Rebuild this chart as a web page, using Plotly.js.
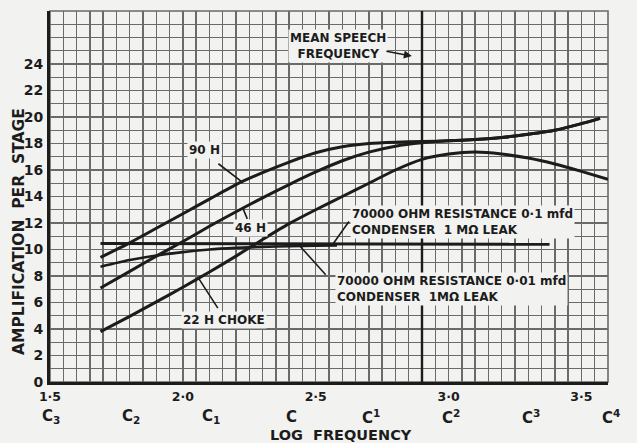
<!DOCTYPE html>
<html>
<head>
<meta charset="utf-8">
<script src="https://cdn.plot.ly/plotly-3.0.1.min.js"></script>
<style>
html,body{margin:0;padding:0;background:#f2f2f0;}
#chart{width:637px;height:443px;}
</style>
</head>
<body>
<div id="chart"></div>
<script>
// ---- data (log10 frequency vs amplification per stage) ----
const h90X = [1.69,1.8,1.9,2.0,2.1,2.2,2.3,2.4,2.5,2.6,2.7,2.8,2.9,3.0,3.1,3.2,3.3,3.4,3.5,3.57];
const h90Y = [9.4,10.5,11.6,12.7,13.8,14.9,15.8,16.6,17.3,17.75,18.0,18.1,18.15,18.2,18.3,18.45,18.7,19.0,19.5,19.9];

const h46X = [1.69,1.8,1.9,2.0,2.1,2.2,2.3,2.4,2.5,2.6,2.7,2.8,2.9,3.0,3.1,3.2,3.3,3.4,3.5,3.57];
const h46Y = [7.1,8.35,9.5,10.6,11.75,12.85,13.9,14.9,15.85,16.7,17.35,17.8,18.05,18.2,18.3,18.45,18.7,19.0,19.5,19.9];

const h22X = [1.69,1.8,1.9,2.0,2.1,2.2,2.3,2.4,2.5,2.6,2.7,2.8,2.9,3.0,3.1,3.2,3.3,3.4,3.5,3.6];
const h22Y = [3.8,4.95,6.05,7.15,8.3,9.5,10.75,11.95,13.0,14.0,15.0,16.0,16.8,17.2,17.35,17.2,16.9,16.45,15.9,15.3];

const res01X = [1.69,3.38];
const res01Y = [10.45,10.4];

const res001X = [1.69,1.8,1.9,2.0,2.1,2.2,2.3,2.4,2.5,2.58];
const res001Y = [8.7,9.2,9.55,9.8,10.0,10.12,10.2,10.25,10.28,10.3];

const meanSpeechX = 2.9;

const yTickVals = [0,2,4,6,8,10,12,14,16,18,20,22,24];
const xTickVals = [1.5,2.0,2.5,3.0,3.5];
const xTickText = ['1·5','2·0','2·5','3·0','3·5'];
const noteFreqs = [32,64,128,256,512,1024,2048,4096];
const noteNames = ['C<sub>3</sub>','C<sub>2</sub>','C<sub>1</sub>','C','C<sup>1</sup>','C<sup>2</sup>','C<sup>3</sup>','C<sup>4</sup>'];

const X_RANGE = [1.5,3.6];
const Y_RANGE = [0,28];

// ---- styling ----
const INK = '#1c1c1c';
const GRID = '#6a6a6a';
const BG = '#f2f2f0';
const FONT = 'DejaVu Sans, Liberation Sans, Arial, sans-serif';

function curve(x, y, w) {
  return {x: x, y: y, type: 'scatter', mode: 'lines',
    line: {color: INK, width: w || 3, shape: 'spline', smoothing: 0.6},
    hoverinfo: 'skip', showlegend: false, cliponaxis: true};
}

const traces = [
  curve(h90X, h90Y),
  curve(h46X, h46Y),
  curve(h22X, h22Y),
  curve(res01X, res01Y, 3),
  curve(res001X, res001Y, 2.6),
  {x: [meanSpeechX, meanSpeechX], y: Y_RANGE, type: 'scatter', mode: 'lines',
   line: {color: INK, width: 2.4}, hoverinfo: 'skip', showlegend: false}
];

const txtFont = {family: FONT, size: 12, color: INK, weight: 'bold'};

function label(text, x, y, xanchor, align) {
  return {text: text, x: x, y: y, xref: 'x', yref: 'y', showarrow: false,
    xanchor: xanchor || 'center', yanchor: 'middle', align: align || 'center',
    font: txtFont, bgcolor: BG, borderpad: 1};
}
function leader(x, y, ax, ay, head) {
  return {text: '', x: x, y: y, xref: 'x', yref: 'y', ax: ax, ay: ay,
    showarrow: true, arrowhead: head ? 2 : 0, arrowsize: 1, arrowwidth: 1.6,
    arrowcolor: INK, standoff: 0, startstandoff: 0};
}

const annotations = [
  label('90 H', 2.083, 17.5),
  label('46 H', 2.256, 11.6),
  label('22 H CHOKE', 2.155, 4.68),
  label('70000 OHM RESISTANCE 0·1 mfd<br>CONDENSER  1 MΩ LEAK', 2.629, 12.08, 'left', 'left'),
  label('70000 OHM RESISTANCE 0·01 mfd<br>CONDENSER  1MΩ LEAK', 2.573, 7.02, 'left', 'left'),
  label('MEAN SPEECH<br>FREQUENCY', 2.584, 25.36),
  leader(2.226, 15.05, -26, -20),
  leader(2.226, 13.1, 5, 12),
  leader(2.06, 7.8, 20, 31),
  leader(2.565, 10.42, 17, -24),
  leader(2.441, 10.25, 27, 30),
  leader(2.862, 24.6, -27, -5, true),
  {text: 'AMPLIFICATION  PER  STAGE', xref: 'paper', yref: 'paper',
   x: -0.0556, y: 0.407, textangle: -90, showarrow: false,
   xanchor: 'center', yanchor: 'middle',
   font: {family: FONT, size: 15.5, color: INK, weight: 'bold'}},
  {text: 'LOG  FREQUENCY', xref: 'paper', yref: 'paper',
   x: 0.5215, y: -0.143, showarrow: false, xanchor: 'center', yanchor: 'middle',
   font: {family: FONT, size: 14.5, color: INK, weight: 'bold'}}
];

noteFreqs.forEach(function (f, i) {
  annotations.push({text: noteNames[i], xref: 'paper', yref: 'paper',
    x: (Math.log10(f) - X_RANGE[0]) / (X_RANGE[1] - X_RANGE[0]), y: -0.093,
    showarrow: false, xanchor: 'center', yanchor: 'middle',
    font: {family: FONT, size: 15, color: INK, weight: 'bold'}});
});

const layout = {
  width: 637, height: 443,
  margin: {l: 50, r: 29, t: 11, b: 61},
  paper_bgcolor: BG, plot_bgcolor: BG,
  showlegend: false,
  xaxis: {
    range: X_RANGE, tickmode: 'array', tickvals: xTickVals, ticktext: xTickText,
    ticks: '', showgrid: true, gridcolor: GRID, gridwidth: 1.4,
    minor: {dtick: 0.05, tick0: 1.5, showgrid: true, gridcolor: GRID, gridwidth: 1.4},
    zeroline: false, showline: true, linecolor: INK, linewidth: 3,
    tickfont: {family: FONT, size: 12.5, color: INK, weight: 'bold'},
    ticklabelstandoff: 1, fixedrange: true
  },
  yaxis: {
    range: Y_RANGE, tickmode: 'array', tickvals: yTickVals,
    ticks: '', showgrid: true, gridcolor: GRID, gridwidth: 1.4,
    minor: {dtick: 1, tick0: 0, showgrid: true, gridcolor: GRID, gridwidth: 1.4},
    zeroline: false, showline: true, linecolor: INK, linewidth: 3,
    tickfont: {family: FONT, size: 14, color: INK, weight: 'bold'},
    ticklabelstandoff: 1, fixedrange: true
  },
  shapes: [
    {type: 'rect', xref: 'paper', yref: 'paper', x0: 0, x1: 1, y0: 0, y1: 1,
     line: {color: GRID, width: 1.6}, layer: 'below'}
  ],
  annotations: annotations
};

Plotly.newPlot('chart', traces, layout, {staticPlot: true, displayModeBar: false});
</script>
</body>
</html>
